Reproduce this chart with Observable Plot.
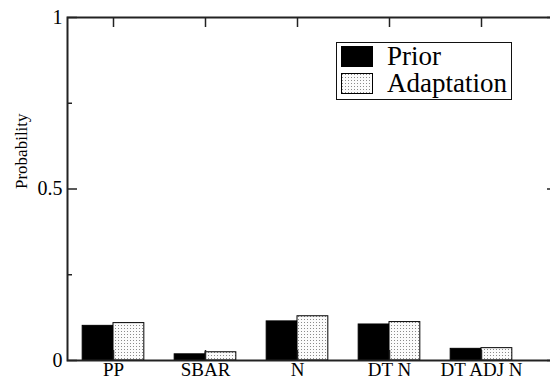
<!DOCTYPE html>
<html>
<head>
<meta charset="utf-8">
<script src="https://cdn.jsdelivr.net/npm/d3@7"></script>
<script src="https://cdn.jsdelivr.net/npm/@observablehq/plot@0.6"></script>
<style>
  html, body { margin: 0; padding: 0; background: white; }
  #wrap { position: relative; width: 550px; height: 380px; overflow: hidden; }
  #legend { position: absolute; left: 336px; top: 42px; width: 174px; height: 56px;
    border: 1.5px solid #111; background: white; font-family: 'Liberation Serif', 'Times New Roman', Tinos, 'DejaVu Serif', serif; font-size: 27px; }
  .row { position: absolute; left: 4px; height: 21px; display: flex; align-items: center; }
  .row svg { display: block; }
  .row span { position: absolute; left: 46px; top: -1px; line-height: 23px; white-space: nowrap; }
  svg text { font-family: 'Liberation Serif', 'Times New Roman', Tinos, 'DejaVu Serif', serif !important; }
</style>
</head>
<body>
<div id="wrap"></div>
<script>
const categories = ["PP", "SBAR", "N", "DT N", "DT ADJ N"];
const prior      = [0.101, 0.018, 0.114, 0.105, 0.034];
const adaptation = [0.109, 0.024, 0.129, 0.112, 0.036];
const seriesNames = ["Prior", "Adaptation"];
const yTicks = [0, 0.5, 1];
const yTickLabels = ["0", "0.5", "1"];
const yMinorTicks = [0.25, 0.75];

const positions = categories.map((c, i) => i + 1);
const barW = 0.335;
const rows = [];
categories.forEach((c, i) => {
  rows.push({cat: c, series: seriesNames[0], x1: positions[i] - barW, x2: positions[i], value: prior[i]});
  rows.push({cat: c, series: seriesNames[1], x1: positions[i], x2: positions[i] + barW, value: adaptation[i]});
});

const font = "'Liberation Serif', 'Times New Roman', Tinos, 'DejaVu Serif', serif";
const frameH = 360 - 17;
const frameW = 557 - 67;

const plot = Plot.plot({
  width: 550,
  height: 380,
  marginLeft: 67,
  marginRight: -7,
  marginTop: 17,
  marginBottom: 20,
  style: {fontFamily: font, fontSize: "19px", color: "#000", background: "white", overflow: "hidden"},
  x: {domain: [0.5, 0.5 + frameW / 92], axis: null},
  y: {domain: [0, 1], axis: null},
  marks: [
    Plot.rect(rows, {
      x1: "x1", x2: "x2", y1: 0, y2: "value",
      fill: d => d.series === "Prior" ? "#000" : "url(#dots)",
      stroke: "#000", strokeWidth: 1
    }),
    Plot.tickY(yTicks, {y: d => d, insetRight: frameW - 10, stroke: "#222", strokeWidth: 1.5}),
    Plot.tickY(yMinorTicks, {y: d => d, insetRight: frameW - 5, stroke: "#222", strokeWidth: 1.5}),
    Plot.tickY(yTicks, {y: d => d, insetLeft: frameW - 10, stroke: "#222", strokeWidth: 1.5}),
    Plot.tickY(yMinorTicks, {y: d => d, insetLeft: frameW - 5, stroke: "#222", strokeWidth: 1.5}),
    Plot.tickX(positions, {x: d => d, insetTop: frameH - 10, stroke: "#222", strokeWidth: 1.5}),
    Plot.tickX(positions, {x: d => d, insetBottom: frameH - 10, stroke: "#222", strokeWidth: 1.5}),
    Plot.frame({stroke: "#222", strokeWidth: 2}),
    Plot.axisY({ticks: yTicks, tickSize: 0, tickPadding: 5,
      tickFormat: d => yTickLabels[yTicks.indexOf(d)], fontSize: 20, label: null}),
    Plot.axisX({ticks: positions, tickSize: 0, tickPadding: 2,
      tickFormat: d => categories[d - 1], fontSize: 19, label: null}),
    Plot.text(["Probability"], {frameAnchor: "left", dx: -46, rotate: -90, fontSize: 17, text: d => d})
  ]
});

const svgNS = "http://www.w3.org/2000/svg";
function addPattern(svg) {
  const defs = document.createElementNS(svgNS, "defs");
  defs.innerHTML = '<pattern id="dots" width="3" height="3" patternUnits="userSpaceOnUse">' +
    '<rect width="3" height="3" fill="#fbfbfb"/><rect x="1" y="1" width="1" height="1" fill="#8a8a8a"/></pattern>';
  svg.insertBefore(defs, svg.firstChild);
}
addPattern(plot);

const wrap = document.getElementById("wrap");
wrap.appendChild(plot);

const legend = document.createElement("div");
legend.id = "legend";
seriesNames.forEach((name, i) => {
  const row = document.createElement("div");
  row.className = "row";
  row.style.top = (3 + i * 27) + "px";
  const fill = i === 0 ? "#000" : "url(#dots)";
  row.innerHTML = '<svg width="32" height="21"><rect x="0.5" y="0.5" width="31" height="20" fill="' + fill +
    '" stroke="#000" stroke-width="1"/></svg><span>' + name + '</span>';
  legend.appendChild(row);
});
wrap.appendChild(legend);
</script>
</body>
</html>
